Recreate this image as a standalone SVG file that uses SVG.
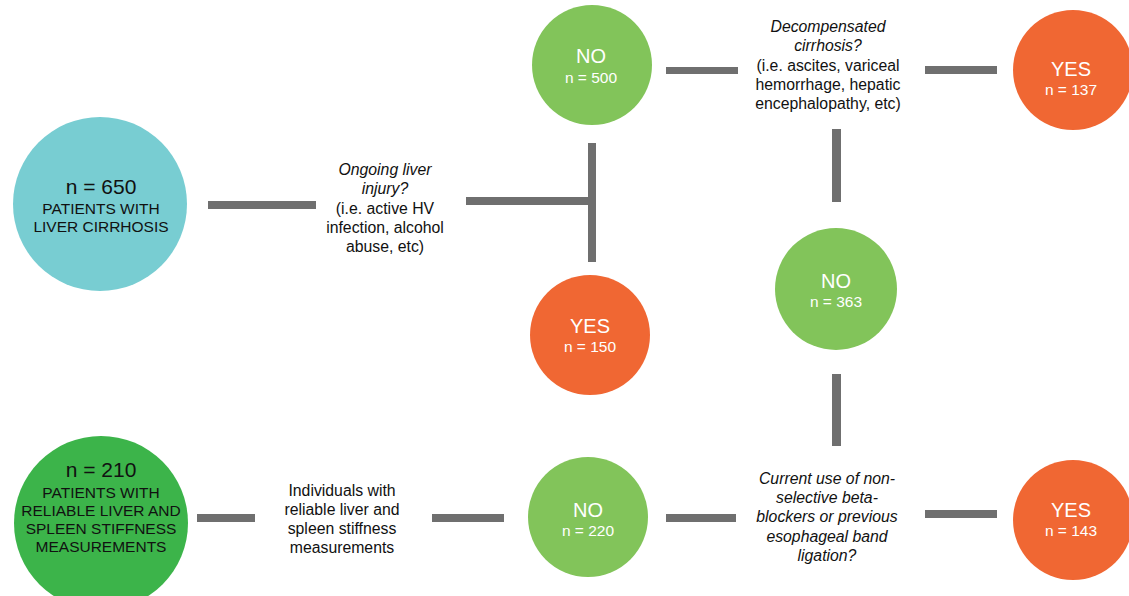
<svg xmlns="http://www.w3.org/2000/svg" width="1129" height="596" viewBox="0 0 1129 596">
<style>
.bar{fill:#6f6f6f}
.t{font-family:"Liberation Sans",Arial,sans-serif;text-anchor:middle}
.dk{fill:#111}
.wh{fill:#fff}
.big{font-size:21px}
.cap{font-size:15.5px}
.lbl{font-size:20px}
.n{font-size:15.5px}
.q{font-size:15.8px;fill:#111}
.it{font-style:italic}
</style>
<rect width="1129" height="596" fill="#fff"/>
<g id="connectors">
<rect class="bar" x="208" y="201" width="108" height="8"/>
<rect class="bar" x="466" y="197" width="126" height="8"/>
<rect class="bar" x="588" y="143" width="8" height="119"/>
<rect class="bar" x="666" y="67" width="72" height="7"/>
<rect class="bar" x="925" y="66" width="72" height="8"/>
<rect class="bar" x="832" y="129" width="9" height="73"/>
<rect class="bar" x="832" y="374" width="9" height="72"/>
<rect class="bar" x="197" y="514" width="58" height="8"/>
<rect class="bar" x="432" y="514" width="72" height="8"/>
<rect class="bar" x="666" y="514" width="70" height="8"/>
<rect class="bar" x="925" y="510" width="72" height="8"/>
</g>
<g id="n650">
<circle cx="100" cy="204" r="87" fill="#78cdd2"/>
<text class="t dk big" x="101" y="194">n = 650</text>
<text class="t dk cap" x="101" y="214">PATIENTS WITH</text>
<text class="t dk cap" x="101" y="232">LIVER CIRRHOSIS</text>
</g>
<g id="q1">
<text class="t q it" x="385" y="175">Ongoing liver</text>
<text class="t q it" x="385" y="194">injury?</text>
<text class="t q" x="385" y="214">(i.e. active HV</text>
<text class="t q" x="385" y="233">infection, alcohol</text>
<text class="t q" x="385" y="252">abuse, etc)</text>
</g>
<g id="no500">
<circle cx="592" cy="65" r="60" fill="#82c45a"/>
<text class="t wh lbl" x="591" y="63">NO</text>
<text class="t wh n" x="591" y="83">n = 500</text>
</g>
<g id="yes150">
<circle cx="590" cy="335" r="60" fill="#f06733"/>
<text class="t wh lbl" x="590" y="333">YES</text>
<text class="t wh n" x="590" y="352">n = 150</text>
</g>
<g id="q2">
<text class="t q it" x="828" y="32">Decompensated</text>
<text class="t q it" x="828" y="51">cirrhosis?</text>
<text class="t q" x="828" y="71">(i.e. ascites, variceal</text>
<text class="t q" x="828" y="90">hemorrhage, hepatic</text>
<text class="t q" x="828" y="109">encephalopathy, etc)</text>
</g>
<g id="yes137">
<circle cx="1073" cy="70" r="60" fill="#f06733"/>
<text class="t wh lbl" x="1071" y="76">YES</text>
<text class="t wh n" x="1071" y="95">n = 137</text>
</g>
<g id="no363">
<circle cx="836" cy="289" r="61" fill="#82c45a"/>
<text class="t wh lbl" x="836" y="288">NO</text>
<text class="t wh n" x="836" y="307">n = 363</text>
</g>
<g id="n210">
<circle cx="101" cy="523" r="87" fill="#3cb44a"/>
<text class="t dk big" x="101" y="477">n = 210</text>
<text class="t dk cap" x="101" y="498">PATIENTS WITH</text>
<text class="t dk cap" x="101" y="516">RELIABLE LIVER AND</text>
<text class="t dk cap" x="101" y="534">SPLEEN STIFFNESS</text>
<text class="t dk cap" x="101" y="552">MEASUREMENTS</text>
</g>
<g id="q3">
<text class="t q" x="342" y="496">Individuals with</text>
<text class="t q" x="342" y="515">reliable liver and</text>
<text class="t q" x="342" y="534">spleen stiffness</text>
<text class="t q" x="342" y="553">measurements</text>
</g>
<g id="no220">
<circle cx="588" cy="517" r="60" fill="#82c45a"/>
<text class="t wh lbl" x="588" y="517">NO</text>
<text class="t wh n" x="588" y="536">n = 220</text>
</g>
<g id="q4">
<text class="t q it" x="827" y="484">Current use of non-</text>
<text class="t q it" x="827" y="503">selective beta-</text>
<text class="t q it" x="827" y="522">blockers or previous</text>
<text class="t q it" x="827" y="542">esophageal band</text>
<text class="t q it" x="827" y="561">ligation?</text>
</g>
<g id="yes143">
<circle cx="1073" cy="520" r="60" fill="#f06733"/>
<text class="t wh lbl" x="1071" y="517">YES</text>
<text class="t wh n" x="1071" y="536">n = 143</text>
</g>
</svg>
